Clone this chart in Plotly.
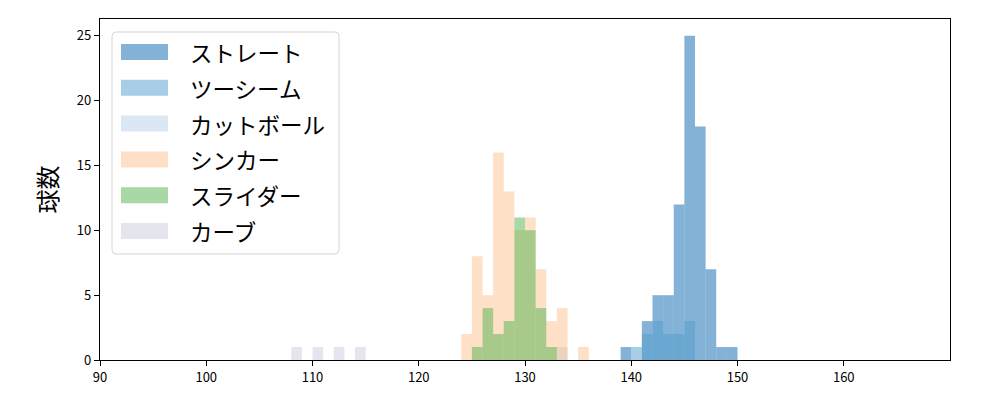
import plotly.graph_objects as go

# bin left edges (km/h, 1 km/h bins) and counts per pitch type
straight_bins = [139, 140, 141, 142, 143, 144, 145, 146, 147, 148, 149]
straight_counts = [1, 0, 3, 5, 5, 12, 25, 18, 7, 1, 1]

twoseam_bins = [140, 141, 142, 143, 144, 145]
twoseam_counts = [1, 2, 3, 2, 2, 3]

cutter_bins = [133]
cutter_counts = [1]

sinker_bins = [124, 125, 126, 127, 128, 129, 130, 131, 132, 133, 134, 135]
sinker_counts = [2, 8, 5, 16, 13, 10, 11, 7, 3, 4, 0, 1]

slider_bins = [125, 126, 127, 128, 129, 130, 131, 132]
slider_counts = [1, 4, 2, 3, 11, 10, 4, 1]

curve_bins = [108, 109, 110, 111, 112, 113, 114]
curve_counts = [1, 0, 1, 0, 1, 0, 1]

names = ["ストレート", "ツーシーム", "カットボール", "シンカー", "スライダー", "カーブ"]
colors = ["rgba(10,102,174,0.5)", "rgba(80,158,206,0.5)", "rgba(184,208,232,0.5)",
          "rgba(251,193,140,0.5)", "rgba(82,178,78,0.5)", "rgba(204,204,226,0.5)"]
series = [(straight_bins, straight_counts), (twoseam_bins, twoseam_counts),
          (cutter_bins, cutter_counts), (sinker_bins, sinker_counts),
          (slider_bins, slider_counts), (curve_bins, curve_counts)]

BIN = 1.0
FONT = "Noto Sans CJK JP"

fig = go.Figure()
for (bins, counts), name, col in zip(series, names, colors):
    fig.add_trace(go.Bar(
        x=[b + BIN / 2 for b in bins], y=counts, width=BIN,
        marker=dict(color=col, line=dict(width=0)),
        name=name, showlegend=False,
    ))

# ---- legend drawn as shapes + text (matplotlib-style wide patches) ----
PW, PH = 850.0, 341.0  # plot area size in px


def px_x(px):
    return (px - 100) / PW


def px_y(py):
    return (360 - py) / PH


# rounded legend frame
bx0, bx1, by0, by1 = px_x(112), px_x(339), px_y(254), px_y(32)
rx, ry = 4 / PW, 4 / PH
frame = (f"M{bx0 + rx},{by1} L{bx1 - rx},{by1} Q{bx1},{by1} {bx1},{by1 - ry} "
         f"L{bx1},{by0 + ry} Q{bx1},{by0} {bx1 - rx},{by0} "
         f"L{bx0 + rx},{by0} Q{bx0},{by0} {bx0},{by0 + ry} "
         f"L{bx0},{by1 - ry} Q{bx0},{by1} {bx0 + rx},{by1} Z")
shapes = [dict(type="path", xref="paper", yref="paper", path=frame,
               fillcolor="rgba(255,255,255,0.8)", line=dict(color="#d5d5d5", width=1),
               layer="above")]
annotations = []
row0, dy = 52.0, 35.8
for k, (name, col) in enumerate(zip(names, colors)):
    cy = row0 + k * dy
    shapes.append(dict(type="rect", xref="paper", yref="paper",
                       x0=px_x(121), x1=px_x(168), y0=px_y(cy + 8), y1=px_y(cy - 8),
                       fillcolor=col, line=dict(width=0), layer="above"))
    annotations.append(dict(xref="paper", yref="paper", x=px_x(188), y=px_y(cy),
                            xanchor="left", yanchor="middle", text=name, showarrow=False,
                            font=dict(family=FONT, size=22.5, color="black")))

# page body has an 8px margin, so offset the plot area accordingly
fig.update_layout(
    width=1000, height=400,
    barmode="overlay",
    paper_bgcolor="white", plot_bgcolor="white",
    margin=dict(l=92, r=58, t=11, b=48),
    font=dict(family=FONT, color="black", size=13),
    showlegend=False,
    shapes=shapes, annotations=annotations,
    xaxis=dict(
        range=[90, 170], tickvals=[90, 100, 110, 120, 130, 140, 150, 160],
        showgrid=False, zeroline=False, showline=True, linecolor="black",
        linewidth=1.2, mirror=True, ticks="outside", ticklen=5, tickcolor="black",
        tickfont=dict(size=13),
    ),
    yaxis=dict(
        range=[0, 26.3], tickvals=[0, 5, 10, 15, 20, 25],
        showgrid=False, zeroline=False, showline=True, linecolor="black",
        linewidth=1.2, mirror=True, ticks="outside", ticklen=5, tickcolor="black",
        tickfont=dict(size=13),
        title=dict(text="球数", font=dict(size=24, family=FONT), standoff=12),
    ),
)

fig.write_html("out.html")
